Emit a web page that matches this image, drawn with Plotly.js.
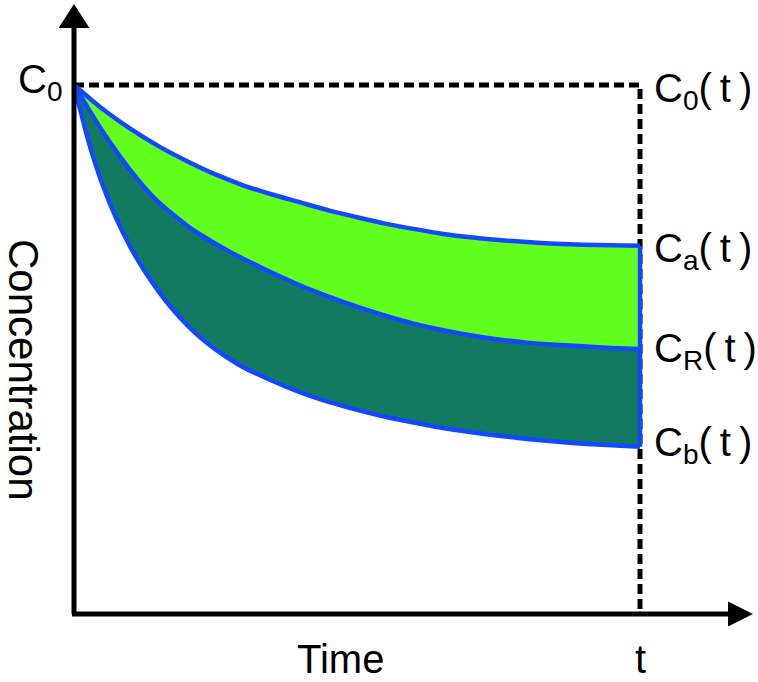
<!DOCTYPE html>
<html>
<head>
<meta charset="utf-8">
<script src="https://cdn.plot.ly/plotly-3.0.1.min.js"></script>
<style>html,body{margin:0;padding:0;background:#fff;}#chart{width:758px;height:682px;}</style>
</head>
<body>
<div id="chart"></div>
<script>
// Time as fraction of the end time t; concentration as fraction of C0
const timeCa = [0, 0.05, 0.1, 0.15, 0.2, 0.25, 0.3, 0.35, 0.4, 0.45, 0.5, 0.55, 0.6, 0.65, 0.7, 0.75, 0.8, 0.85, 0.9, 0.95, 1.0];
const concCa = [1.0, 0.955, 0.917, 0.884, 0.856, 0.831, 0.810, 0.793, 0.778, 0.763, 0.750, 0.738, 0.728, 0.719, 0.712, 0.707, 0.703, 0.700, 0.698, 0.697, 0.696];

const timeCR = [0, 0.025, 0.05, 0.075, 0.1, 0.125, 0.15, 0.175, 0.2, 0.225, 0.25, 0.275, 0.3, 0.35, 0.4, 0.45, 0.5, 0.55, 0.6, 0.65, 0.7, 0.75, 0.8, 0.85, 0.9, 0.95, 1.0];
const concCR = [1.0, 0.956, 0.913, 0.874, 0.838, 0.806, 0.778, 0.755, 0.734, 0.716, 0.700, 0.685, 0.671, 0.645, 0.621, 0.600, 0.581, 0.564, 0.549, 0.537, 0.527, 0.519, 0.513, 0.509, 0.506, 0.503, 0.501];

const timeCb = [0, 0.025, 0.05, 0.075, 0.1, 0.125, 0.15, 0.175, 0.2, 0.225, 0.25, 0.275, 0.3, 0.35, 0.4, 0.45, 0.5, 0.55, 0.6, 0.65, 0.7, 0.75, 0.8, 0.85, 0.9, 0.95, 1.0];
const concCb = [1.0, 0.896, 0.813, 0.747, 0.693, 0.648, 0.609, 0.575, 0.546, 0.521, 0.500, 0.482, 0.466, 0.441, 0.419, 0.401, 0.386, 0.373, 0.362, 0.352, 0.344, 0.337, 0.331, 0.326, 0.322, 0.319, 0.316];

const C0 = 1.0;
const tEnd = 1.0;

const labelC0 = "C<sub>0</sub>";
const labelC0t = "C<sub>0</sub>(\u2009t\u2009)";
const labelCa = "C<sub>a</sub>(\u2009t\u2009)";
const labelCR = "C<sub>R</sub>(\u2009t\u2009)";
const labelCb = "C<sub>b</sub>(\u2009t\u2009)";
const xTitle = "Time";
const yTitle = "Concentration";
const tLabel = "t";

const BLUE = "#1448ff";
const GREEN = "#62ff1e";
const TEAL = "#117a61";
const FONT = "Arial, 'Liberation Sans', sans-serif";

const last = a => a[a.length - 1];
const curveLine = {color: BLUE, width: 4.5, shape: "spline", smoothing: 0.6};

const traces = [
  { // dashed C0 reference
    x: [0, tEnd, tEnd], y: [C0, C0, 0], mode: "lines",
    line: {color: "#000", width: 5, dash: "10px,5px"}, hoverinfo: "skip"
  },
  {x: timeCb, y: concCb, mode: "lines", name: "Cb", line: curveLine},
  {x: timeCR, y: concCR, mode: "lines", name: "CR", fill: "tonexty", fillcolor: TEAL, line: curveLine},
  {x: timeCa, y: concCa, mode: "lines", name: "Ca", fill: "tonexty", fillcolor: GREEN, line: curveLine},
  { // right edge
    x: [last(timeCa), last(timeCb)], y: [last(concCa), last(concCb)], mode: "lines",
    line: {color: BLUE, width: 4.5}, hoverinfo: "skip"
  }
];

// pixel geometry helpers (plot area = whole canvas)
const PX0 = 74, PXU = 566, PY0 = 614, PYU = 529;
const xr = [-PX0 / PXU, (758 - PX0) / PXU];
const yr = [-(682 - PY0) / PYU, PY0 / PYU];
const dx = p => (p - PX0) / PXU;
const dy = p => (PY0 - p) / PYU;

const shapes = [
  {type: "line", xref: "x", yref: "y", x0: 0, y0: 0, x1: 0, y1: dy(26), line: {color: "#000", width: 5}},
  {type: "line", xref: "x", yref: "y", x0: dx(72), y0: 0, x1: dx(730), y1: 0, line: {color: "#000", width: 5}},
  {type: "path", xref: "x", yref: "y",
   path: `M ${dx(74)} ${dy(4)} L ${dx(58.5)} ${dy(28)} L ${dx(89.5)} ${dy(28)} Z`,
   fillcolor: "#000", line: {width: 0}},
  {type: "path", xref: "x", yref: "y",
   path: `M ${dx(753)} ${dy(614)} L ${dx(728)} ${dy(601.5)} L ${dx(728)} ${dy(626.5)} Z`,
   fillcolor: "#000", line: {width: 0}}
];

const af = {family: FONT, size: 40, color: "#000"};
const annotations = [
  {text: labelC0, x: dx(16), y: dy(82), xref: "x", yref: "y", xanchor: "left", yanchor: "middle", showarrow: false, font: af},
  {text: labelC0t, x: dx(652), y: C0, xref: "x", yref: "y", xanchor: "left", yanchor: "middle", yshift: -6, showarrow: false, font: af},
  {text: labelCa, x: dx(652), y: last(concCa), xref: "x", yref: "y", xanchor: "left", yanchor: "middle", yshift: -5, showarrow: false, font: af},
  {text: labelCR, x: dx(652), y: last(concCR), xref: "x", yref: "y", xanchor: "left", yanchor: "middle", yshift: -2, showarrow: false, font: af},
  {text: labelCb, x: dx(652), y: last(concCb), xref: "x", yref: "y", xanchor: "left", yanchor: "middle", yshift: 2, showarrow: false, font: af},
  {text: xTitle, x: dx(340), y: dy(659), xref: "x", yref: "y", xanchor: "center", yanchor: "middle", borderpad: 0, showarrow: false, font: {family: FONT, size: 40, color: "#000"}},
  {text: tLabel, x: tEnd, y: dy(659), xref: "x", yref: "y", xanchor: "center", yanchor: "middle", borderpad: 0, showarrow: false, font: {family: FONT, size: 40, color: "#000"}},
  {text: yTitle, x: dx(24), y: dy(370), xref: "x", yref: "y", xanchor: "center", yanchor: "middle", textangle: 90, borderpad: 0, showarrow: false, font: {family: FONT, size: 42, color: "#000"}}
];

const layout = {
  width: 758, height: 682,
  margin: {l: 0, r: 0, t: 0, b: 0, pad: 0},
  paper_bgcolor: "#fff", plot_bgcolor: "#fff",
  showlegend: false,
  xaxis: {range: xr, visible: false, fixedrange: true},
  yaxis: {range: yr, visible: false, fixedrange: true},
  shapes: shapes,
  annotations: annotations
};

Plotly.newPlot("chart", traces, layout, {staticPlot: true, displayModeBar: false});
</script>
</body>
</html>
